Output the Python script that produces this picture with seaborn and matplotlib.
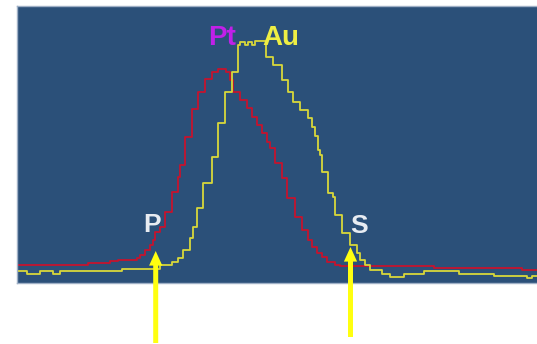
import numpy as np
import pandas as pd
import matplotlib
matplotlib.use("Agg")
import matplotlib.pyplot as plt
import seaborn as sns

# ============================================
# Data (channel, counts)
# ============================================
PT_CHANNEL = [0, 71, 93, 101, 120, 123, 128, 133, 136, 138, 143, 148, 155, 161,
              163, 168, 175, 181, 188, 195, 201, 209, 213, 216, 223, 230, 235,
              240, 245, 250, 253, 258, 265, 270, 278, 285, 291, 295, 300, 305,
              310, 318, 323, 417, 505, 520]
PT_COUNTS = [18.3, 20.3, 21.7, 22.7, 25, 28, 33, 38, 43, 51, 56, 71, 91, 106,
             118, 146, 174, 191, 204, 211, 214, 211, 203, 191, 183, 175, 166,
             158, 150, 141, 135, 120, 105, 85, 66, 53, 43, 36, 30, 26,
             21, 18, 17, 15, 13, 13]

AU_CHANNEL = [0, 10, 23, 36, 43, 105, 130, 143, 155, 161, 166, 173, 176, 180,
              186, 195, 201, 208, 215, 221, 223, 228, 231, 235, 238, 249, 256,
              265, 271, 276, 283, 291, 295, 298, 301, 303, 305, 311, 316, 318,
              325, 333, 340, 343, 348, 353, 365, 373, 387, 407, 442, 477, 510,
              515, 520]
AU_COUNTS = [12, 9.3, 12, 9.3, 12, 13.7, 14.5, 18, 21, 25, 33, 45, 56, 75,
             100, 126, 160, 191, 211, 238, 241, 238, 241, 238, 242, 226, 218,
             203, 191, 181, 173, 165, 156, 147, 133, 128, 111, 90, 86, 68,
             50, 38, 30, 23, 18, 13, 9, 6, 9, 12, 9, 7, 5,
             7, 7]

# marker positions (P and S arrows)
ARROW_CHANNEL = [138.7, 333.5]
ARROW_TIP = [32, 36]
ARROW_TAIL = [-60, -54]

BG = "#2b5079"
RED = "#c4142e"
YELLOW = "#d8d83a"


def main():
    sns.set_theme(style="white")
    plt.rcParams["font.family"] = ["Liberation Sans", "DejaVu Sans"]

    fig = plt.figure(figsize=(5.37, 3.44), dpi=100)
    ax = fig.add_axes([17 / 537, 61 / 344, 520 / 537, 277 / 344])
    ax.set_facecolor(BG)

    pt = pd.DataFrame({"channel": PT_CHANNEL, "counts": PT_COUNTS})
    au = pd.DataFrame({"channel": AU_CHANNEL, "counts": AU_COUNTS})

    sns.lineplot(data=pt, x="channel", y="counts", ax=ax, color=RED,
                 lw=1.3, drawstyle="steps-post")
    sns.lineplot(data=au, x="channel", y="counts", ax=ax, color=YELLOW,
                 lw=1.3, drawstyle="steps-post")

    ax.set_xlim(0, 520)
    ax.set_ylim(0, 277)
    ax.set_xticks([])
    ax.set_yticks([])
    ax.set_xlabel("")
    ax.set_ylabel("")
    for side in ["top", "left", "bottom"]:
        ax.spines[side].set_color("#9fb0c6")
        ax.spines[side].set_linewidth(1.0)
    ax.spines["right"].set_visible(False)

    # peak labels
    ax.text(191, 238, "Pt", color="#c020e8", fontsize=20, fontweight="bold",
            ha="left", va="baseline")
    ax.text(245, 238, "Au", color="#eeee44", fontsize=20, fontweight="bold",
            ha="left", va="baseline")
    ax.text(126, 51, "P", color="#e8ecf2", fontsize=19, fontweight="bold",
            ha="left", va="baseline")
    ax.text(333, 50, "S", color="#e8ecf2", fontsize=19, fontweight="bold",
            ha="left", va="baseline")

    # yellow marker arrows below the panel
    for xc, tip, tail in zip(ARROW_CHANNEL, ARROW_TIP, ARROW_TAIL):
        ax.annotate("", xy=(xc, tip), xytext=(xc, tail),
                    arrowprops=dict(facecolor="#ffff10", edgecolor="none",
                                    width=3.6, headwidth=9.5, headlength=10.5,
                                    shrink=0),
                    annotation_clip=False)

    fig.savefig("out.png", dpi=100)
    plt.close(fig)


if __name__ == "__main__":
    main()
